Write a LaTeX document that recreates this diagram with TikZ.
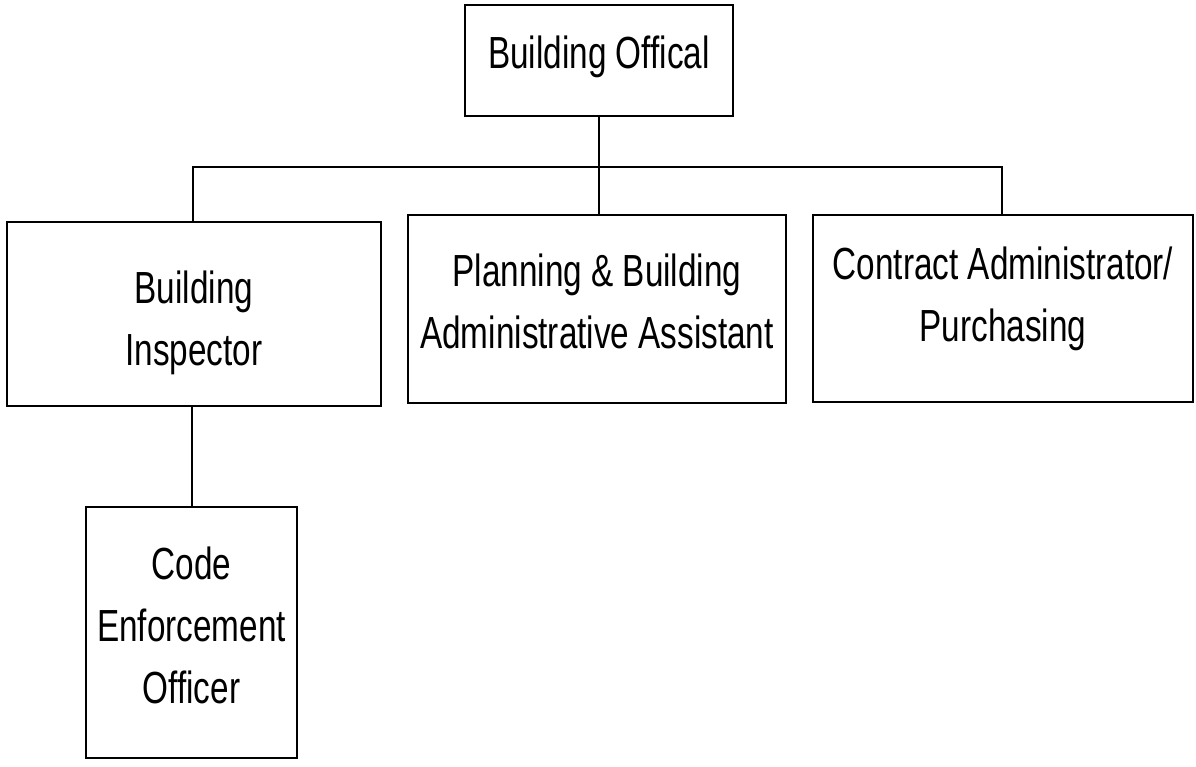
\documentclass[tikz,border=0pt]{standalone}
\usepackage{fontspec}
\setmainfont{Liberation Sans}[FakeStretch=0.74]
\begin{document}
\begin{tikzpicture}[x=1pt,y=-1pt,
  box/.style={draw,line width=2pt,inner sep=0pt},
  txt/.style={align=center,inner sep=0pt,font=\fontsize{45}{62}\selectfont},
  conn/.style={line width=2pt}]
\useasboundingbox[fill=white] (0,0) rectangle (1196,766);
\node[box,minimum width=268pt,minimum height=111pt] (top) at (599,60.5) {};
\node[box,minimum width=374pt,minimum height=184pt] (insp) at (194,314) {};
\node[box,minimum width=378pt,minimum height=188pt] (plan) at (597,309) {};
\node[box,minimum width=380pt,minimum height=187pt] (contr) at (1003,308.5) {};
\node[box,minimum width=211pt,minimum height=251pt] (code) at (191.5,632.5) {};
\node[txt] (topt) at ([yshift=4pt]top.center) {Building Offical};
\node[txt] (inspt) at ([yshift=-9pt]insp.center) {Building\\Inspector};
\node[txt] (plant) at ([yshift=8pt]plan.center) {Planning \& Building\\Administrative Assistant};
\node[txt] (contrt) at ([yshift=10pt]contr.center) {Contract Administrator/\\Purchasing};
\node[txt] (codet) at ([yshift=7pt]code.center) {Code\\Enforcement\\Officer};
\coordinate (busL) at (193,167);
\coordinate (busR) at (1002,167);
\draw[conn] (top.south) -- (top.south |- plan.north);
\draw[conn] (insp.north -| busL) -- (busL) -- (busR) -- (contr.north -| busR);
\draw[conn] (insp.south -| code.north) -- (code.north);
\end{tikzpicture}
\end{document}
